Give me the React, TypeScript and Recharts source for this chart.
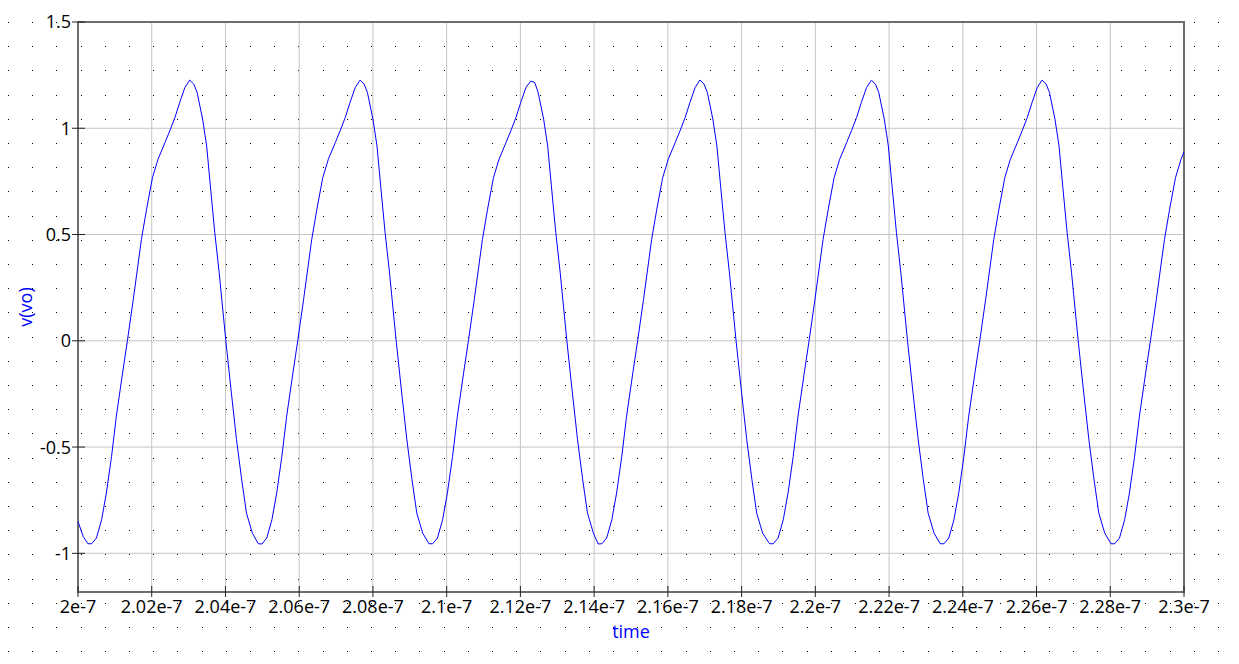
import { LineChart, Line, XAxis, YAxis, CartesianGrid, ReferenceArea } from "recharts";

// time in ns (axis labels are shown as seconds, e.g. 2.02e-7)
const timeTicks = [200, 202, 204, 206, 208, 210, 212, 214, 216, 218, 220, 222, 224, 226, 228, 230];
const voltTicks = [-1, -0.5, 0, 0.5, 1, 1.5];

const timeNs = [
  200.0, 200.14, 200.27, 200.37, 200.5, 200.64, 200.77, 200.91, 201.04, 201.21, 201.34, 201.5, 201.72, 201.86, 202.02, 202.17, 202.36, 202.49, 202.63, 202.76, 202.9, 203.03, 203.14, 203.23, 203.38, 203.49, 203.59, 203.71, 203.83, 204.01, 204.16, 204.3, 204.44, 204.57, 204.73,
  204.89, 204.99, 205.12, 205.26, 205.39, 205.53, 205.66, 205.83, 205.96, 206.12, 206.34, 206.48, 206.64, 206.79, 206.98, 207.11, 207.25, 207.38, 207.52, 207.65, 207.76, 207.85, 208.0, 208.11, 208.21, 208.33, 208.45, 208.63, 208.78, 208.92, 209.06, 209.19, 209.35,
  209.52, 209.62, 209.75, 209.89, 210.02, 210.16, 210.29, 210.46, 210.59, 210.75, 210.97, 211.11, 211.27, 211.42, 211.61, 211.74, 211.88, 212.01, 212.15, 212.28, 212.39, 212.48, 212.63, 212.74, 212.84, 212.96, 213.08, 213.26, 213.41, 213.55, 213.69, 213.82, 213.98,
  214.11, 214.21, 214.34, 214.48, 214.61, 214.75, 214.88, 215.05, 215.18, 215.34, 215.56, 215.7, 215.86, 216.01, 216.2, 216.33, 216.47, 216.6, 216.74, 216.87, 216.98, 217.07, 217.22, 217.33, 217.43, 217.55, 217.67, 217.85, 218.0, 218.14, 218.28, 218.41, 218.57,
  218.76, 218.86, 218.99, 219.13, 219.26, 219.4, 219.53, 219.7, 219.83, 219.99, 220.21, 220.35, 220.51, 220.66, 220.85, 220.98, 221.12, 221.25, 221.39, 221.52, 221.63, 221.72, 221.87, 221.98, 222.08, 222.2, 222.32, 222.5, 222.65, 222.79, 222.93, 223.06, 223.22,
  223.39, 223.49, 223.62, 223.76, 223.89, 224.03, 224.16, 224.33, 224.46, 224.62, 224.84, 224.98, 225.14, 225.29, 225.48, 225.61, 225.75, 225.88, 226.02, 226.15, 226.26, 226.35, 226.5, 226.61, 226.71, 226.83, 226.95, 227.13, 227.28, 227.42, 227.56, 227.69, 227.85,
  228.02, 228.12, 228.25, 228.39, 228.52, 228.66, 228.79, 228.96, 229.09, 229.25, 229.47, 229.61, 229.77, 229.92, 230.0,
];

const vo = [
  -0.85, -0.921, -0.955, -0.955, -0.928, -0.842, -0.716, -0.544, -0.355, -0.151, 0, 0.195, 0.477, 0.619, 0.768, 0.854, 0.933, 0.988, 1.051, 1.122, 1.192, 1.227, 1.208, 1.169, 1.043, 0.917, 0.729, 0.509, 0.32, 0, -0.245, -0.465, -0.654, -0.811, -0.905,
  -0.955, -0.956, -0.928, -0.842, -0.716, -0.544, -0.355, -0.151, 0, 0.195, 0.477, 0.619, 0.768, 0.854, 0.933, 0.988, 1.051, 1.122, 1.192, 1.226, 1.208, 1.169, 1.043, 0.917, 0.729, 0.509, 0.32, 0, -0.245, -0.465, -0.654, -0.811, -0.905,
  -0.955, -0.955, -0.928, -0.842, -0.716, -0.544, -0.355, -0.151, 0, 0.195, 0.477, 0.619, 0.768, 0.854, 0.933, 0.988, 1.051, 1.122, 1.192, 1.222, 1.215, 1.169, 1.043, 0.917, 0.729, 0.509, 0.32, 0, -0.245, -0.465, -0.654, -0.811, -0.905,
  -0.956, -0.955, -0.928, -0.842, -0.716, -0.544, -0.355, -0.151, 0, 0.195, 0.477, 0.619, 0.768, 0.854, 0.933, 0.988, 1.051, 1.122, 1.192, 1.227, 1.208, 1.169, 1.043, 0.917, 0.729, 0.509, 0.32, 0, -0.245, -0.465, -0.654, -0.811, -0.905,
  -0.955, -0.955, -0.928, -0.842, -0.716, -0.544, -0.355, -0.151, 0, 0.195, 0.477, 0.619, 0.768, 0.854, 0.933, 0.988, 1.051, 1.122, 1.192, 1.226, 1.208, 1.169, 1.043, 0.917, 0.729, 0.509, 0.32, 0, -0.245, -0.465, -0.654, -0.811, -0.905,
  -0.955, -0.955, -0.928, -0.842, -0.716, -0.544, -0.355, -0.151, 0, 0.195, 0.477, 0.619, 0.768, 0.854, 0.933, 0.988, 1.051, 1.122, 1.192, 1.227, 1.208, 1.169, 1.043, 0.917, 0.729, 0.509, 0.32, 0, -0.245, -0.465, -0.654, -0.811, -0.905,
  -0.955, -0.955, -0.928, -0.842, -0.716, -0.544, -0.355, -0.151, 0, 0.195, 0.477, 0.619, 0.768, 0.854, 0.89,
];

const data = timeNs.map((t, i) => ({ t, v: vo[i] }));

const FONT = "'Open Sans', sans-serif";
const BLUE = "#0000ff";

const fmtTime = (t: number) => `${+(t / 100).toFixed(2)}e-7`;

function TimeTick(props: any) {
  const { x, y, payload } = props;
  return (
    <g>
      <line x1={x} x2={x} y1={y - 6} y2={y + 5} stroke="#222" strokeWidth={1} />
      <text x={x} y={y + 21} textAnchor="middle" fill="#000" fontSize={18} fontFamily={FONT}>
        {fmtTime(payload.value)}
      </text>
    </g>
  );
}

function VoltTick(props: any) {
  const { x, y, payload } = props;
  return (
    <g>
      <line x1={x - 6} x2={x + 7} y1={y} y2={y} stroke="#222" strokeWidth={1} />
      <text x={x - 7} y={y} dy="0.36em" textAnchor="end" fill="#000" fontSize={18} fontFamily={FONT}>
        {String(payload.value)}
      </text>
    </g>
  );
}

// dotted window background
function DotField() {
  const dots: any[] = [];
  for (let i = 0; i <= 50; i++) {
    for (let j = 0; j <= 26; j++) {
      dots.push(
        <rect key={`${i}-${j}`} x={Math.round(8 + i * 24.2)} y={Math.round(22 + j * 24.2)} width={1} height={1} fill="#000" />
      );
    }
  }
  return (
    <svg width={1239} height={664} style={{ position: "absolute", left: 0, top: 0 }}>
      {dots}
    </svg>
  );
}

export default function App() {
  return (
    <div style={{ position: "absolute", left: 0, top: 0, width: 1239, height: 664, background: "#fff" }}>
      <DotField />
      <div style={{ position: "absolute", left: 0, top: 0 }}>
        <LineChart
          width={1239}
          height={664}
          data={data}
          margin={{ top: 22, right: 55, bottom: 0, left: 0 }}
          style={{ fontFamily: FONT }}
        >
          <CartesianGrid stroke="#c4c4c4" strokeWidth={1} />
          <XAxis
            dataKey="t"
            type="number"
            domain={[200, 230]}
            ticks={timeTicks}
            allowDataOverflow
            height={72}
            axisLine={false}
            tickLine={false}
            tickSize={0}
            tickMargin={0}
            interval={0}
            tick={<TimeTick />}
            label={{
              content: ({ viewBox }: any) => (
                <text x={viewBox.x + viewBox.width / 2} y={viewBox.y + 46} textAnchor="middle" fill={BLUE} fontSize={18} fontFamily={FONT}>
                  time
                </text>
              ),
            }}
          />
          <YAxis
            type="number"
            domain={[-1.182, 1.5]}
            ticks={voltTicks}
            allowDataOverflow
            width={78}
            axisLine={false}
            tickLine={false}
            tickSize={0}
            tickMargin={0}
            interval={0}
            tick={<VoltTick />}
            label={{
              content: ({ viewBox }: any) => {
                const cx = 25;
                const cy = viewBox.y + viewBox.height / 2;
                return (
                  <text x={cx} y={cy} transform={`rotate(-90 ${cx} ${cy})`} textAnchor="middle" dominantBaseline="central" fill={BLUE} fontSize={18} fontFamily={FONT}>
                    v(vo)
                  </text>
                );
              },
            }}
          />
          <ReferenceArea x1={200} x2={230} y1={-1.182} y2={1.5} fill="none" stroke="#6e6e6e" strokeWidth={2} ifOverflow="visible" />
          <Line type="linear" dataKey="v" stroke={BLUE} strokeWidth={1} dot={false} activeDot={false} isAnimationActive={false} />
        </LineChart>
      </div>
    </div>
  );
}
